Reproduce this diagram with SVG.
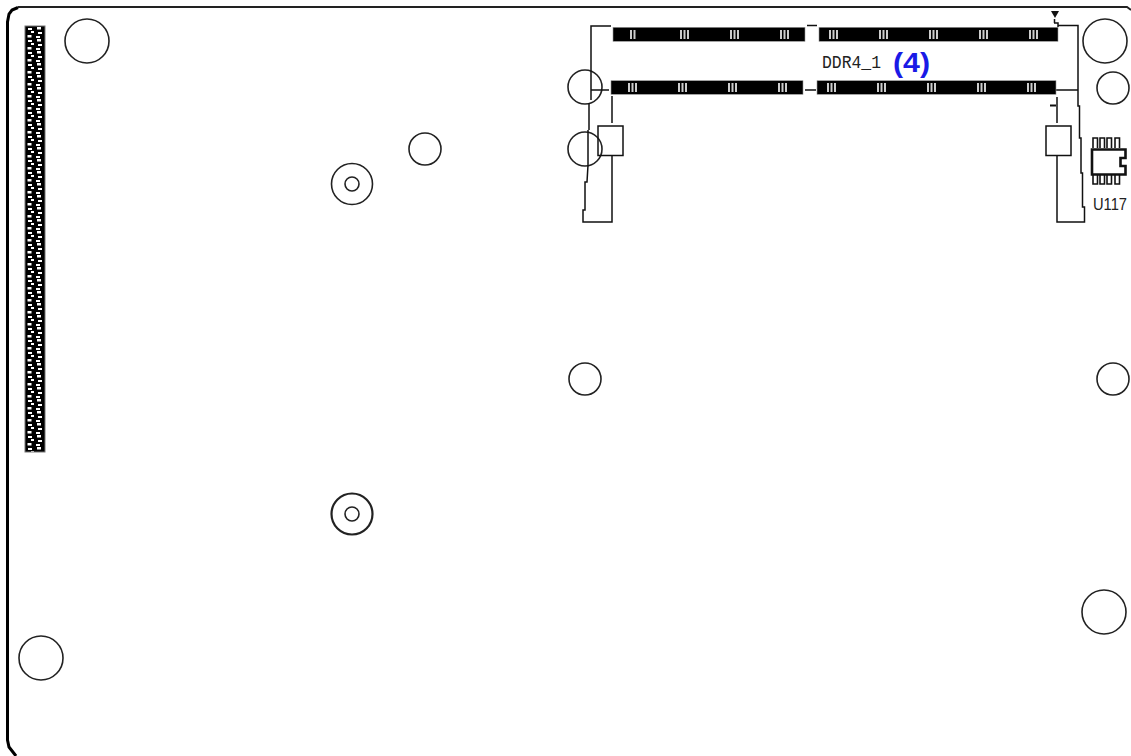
<svg xmlns="http://www.w3.org/2000/svg" width="1131" height="756" viewBox="0 0 1131 756">
<style>
.l{fill:none;stroke:#111;stroke-width:1.5}
.h{fill:none;stroke:#222;stroke-width:1.6}
.s{fill:#000;stroke:#999;stroke-width:.6}
.t{fill:#ccc}
.x{font-family:"Liberation Mono",monospace;font-size:18px;fill:#222}
</style>
<defs>
<pattern id="pins" x="26" y="27" width="18" height="12" patternUnits="userSpaceOnUse">
<rect width="18" height="12" fill="#000"/>
<rect x="2" y="1" width="4" height="2" fill="#fff"/><rect x="11" y="0" width="4" height="2.500" fill="#fff"/>
<rect x="5" y="4" width="3" height="2" fill="#fff"/><rect x="12" y="5" width="4" height="2" fill="#fff"/>
<rect x="1.500" y="8" width="4" height="2.500" fill="#fff"/><rect x="10" y="9" width="4" height="2" fill="#fff"/>
</pattern>
<g id="t4" class="t"><rect x="0" width="2" height="9"/><rect x="3.500" width="2" height="9"/><rect x="7" width="2" height="9"/></g>
</defs>
<rect width="1131" height="756" fill="#fff"/>
<g id="board"><path d="M1122 7H18" fill="none" stroke="#222" stroke-width="1.800"/><path d="M18 7.500L12 10L9 14L7.500 22V740L9 747L16 756" fill="none" stroke="#000" stroke-width="3"/><path d="M1122 7H1127L1131 10" fill="none" stroke="#222" stroke-width="1.800"/></g>
<g id="connector-left"><rect x="25" y="26" width="20" height="426" fill="url(#pins)" stroke="#777" stroke-width="1"/></g>
<g id="holes">
<circle class="h" cx="87" cy="41" r="22"/>
<circle class="h" cx="41" cy="658" r="22"/>
<circle class="h" cx="1105" cy="41" r="22"/>
<circle class="h" cx="1104" cy="612" r="22"/>
<circle class="h" cx="1113" cy="88" r="16"/>
<circle class="h" cx="1113" cy="379" r="16"/>
<circle class="h" cx="585" cy="87" r="17"/>
<circle class="h" cx="585" cy="149" r="17"/>
<circle class="h" cx="585" cy="379" r="16"/>
<circle class="h" cx="425" cy="149" r="16"/>
<circle class="h" cx="352" cy="184" r="20.500"/><circle class="h" cx="352" cy="184" r="7"/>
<circle class="h" cx="352" cy="514" r="20.500" style="stroke-width:2.200"/><circle class="h" cx="352" cy="514" r="7"/>
</g>
<g id="ddr4">
<path class="l" d="M611 26H591V100M589 103V130M588 130V165L587 182H585V210L583 210V222H612V155.500M612 96V123M591 90H609M807 25.500H817M805 90H816"/>
<path class="l" d="M1058 25.500H1078V106H1079.500V138H1081V173H1082.500V207H1084.500V222H1057V155.500M1057 97V123M1056 90H1078"/>
<rect class="l" x="598" y="126" width="25" height="29.500"/>
<rect class="l" x="1046" y="126" width="25" height="29.500" style="fill:#fff"/>
<path d="M1051 11H1059L1055 18Z" fill="#111"/>
<path d="M1054.500 19V23M1054 23H1058V27" class="l"/>
<path d="M1050 105.500H1056" stroke="#111" stroke-width="2"/>
<rect class="s" x="613" y="27.300" width="192" height="14"/>
<rect class="s" x="819" y="27.300" width="239" height="14"/>
<rect class="s" x="611" y="80.700" width="192" height="13.600"/>
<rect class="s" x="817" y="80.700" width="239" height="13.600"/>
<g class="t"><rect x="630" y="30" width="2" height="9"/><rect x="633.500" y="30" width="2" height="9"/></g>
<use href="#t4" x="680" y="30"/><use href="#t4" x="730" y="30"/><use href="#t4" x="780" y="30"/><use href="#t4" x="829" y="30"/><use href="#t4" x="879" y="30"/><use href="#t4" x="929" y="30"/><use href="#t4" x="979" y="30"/><use href="#t4" x="1029" y="30"/>
<use href="#t4" x="628" y="83"/><use href="#t4" x="678" y="83"/><use href="#t4" x="728" y="83"/><use href="#t4" x="778" y="83"/><use href="#t4" x="827" y="83"/><use href="#t4" x="877" y="83"/><use href="#t4" x="927" y="83"/><use href="#t4" x="977" y="83"/><use href="#t4" x="1027" y="83"/>
<text class="x" x="822" y="68" textLength="59" lengthAdjust="spacingAndGlyphs">DDR4_1</text>
<text x="893" y="72" font-family="'Liberation Sans',sans-serif" font-size="27" font-weight="bold" fill="#1a1ae6" textLength="37" lengthAdjust="spacingAndGlyphs">(4)</text>
</g>
<g id="U117">
<path d="M1093 148V138H1097.500V148M1100 148V138H1104.500V148M1107 148V138H1111.500V148M1115 148V138H1119.500V148M1093 175V184H1097.500V175M1100 175V184H1104.500V175M1107 175V184H1111.500V175M1115 175V184H1119.500V175" stroke="#111" stroke-width="1.600" fill="none"/>
<path d="M1092 149.500H1125.500V158H1120.500V166H1125.500V174.500H1092Z" fill="#fff" stroke="#111" stroke-width="2.600"/>
<text x="1093" y="210" font-family="'Liberation Sans',sans-serif" font-size="17" fill="#222" textLength="34" lengthAdjust="spacingAndGlyphs">U117</text>
</g>
</svg>
